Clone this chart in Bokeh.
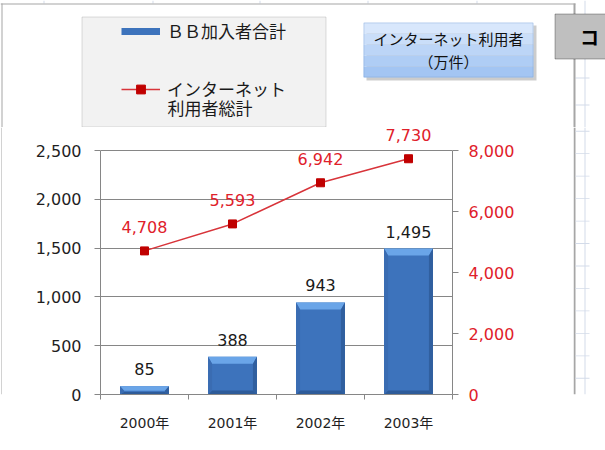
from bokeh.plotting import figure
from bokeh.layouts import column, row
from bokeh.models import (ColumnDataSource, Range1d, LinearAxis, FixedTicker,
                          NumeralTickFormatter, BoxAnnotation, Label, Legend, LegendItem)
from bokeh.core.properties import value
from bokeh.embed import file_html
from bokeh.resources import INLINE

# ---------------- data ----------------
years = ["2000年", "2001年", "2002年", "2003年"]
bb_subscribers = [85, 388, 943, 1495]          # left axis (bars)
internet_users = [4708, 5593, 6942, 7730]      # right axis (line)
left_ticks = [0, 500, 1000, 1500, 2000, 2500]
right_ticks = [0, 2000, 4000, 6000, 8000]
legend_labels = ["ＢＢ加入者合計", "インターネット", "利用者総計"]
note_lines = ["インターネット利用者", "（万件）"]
corner_text = "コ"

# ---------------- layout constants (page pixels) ----------------
PW, PH = 605, 450
TOP_H = 127                  # decoration strip above the chart
MID_H = 448 - TOP_H          # chart row
LEFT_W, RIGHT_X = 2, 573     # left strip, right strip start
F_L, F_R, F_T, F_B = 100, 452, 127, 394   # plot frame (page px)
Y_TOP_PX = 150               # where the top tick lands
NUM_FONT = "DejaVu Sans, Noto Sans CJK JP"
JP_FONT = "Noto Sans CJK JP"
RED_TXT = "#e0202a"
BORDER = "#a6a6a6"
SHEET = "#d3dbe9"
BAR_COL = "#3d73bc"
LINE_COL = "#d8343a"
MARK_COL = "#c00000"
TXT = "#1a1a1a"


def deco_fig(x0, x1, y0, y1):
    f = figure(width=x1 - x0, height=y1 - y0, x_range=Range1d(x0, x1), y_range=Range1d(y1, y0),
               output_backend="svg", toolbar_location=None,
               x_axis_location=None, y_axis_location=None,
               min_border=0, min_border_left=0, min_border_right=0,
               min_border_top=0, min_border_bottom=0)
    f.outline_line_color = None
    f.background_fill_color = "white"
    f.border_fill_color = "white"
    f.grid.visible = False
    return f


def rect(f, x0, y0, x1, y1, **kw):
    f.add_layout(BoxAnnotation(left=x0, right=x1, top=y0, bottom=y1, **kw))


def fill_rect(f, x0, y0, x1, y1, color):
    rect(f, x0, y0, x1, y1, fill_color=color, fill_alpha=1, line_color=None)


# ================= top strip (legend, note, corner box) =================
top = deco_fig(0, PW, 0, TOP_H)
for gx in [43, 152, 259, 367, 476]:
    fill_rect(top, gx, 0, gx + 1, 3, SHEET)
fill_rect(top, 584, 0, 585, TOP_H, SHEET)
for gy in [77, 104]:
    fill_rect(top, 575, gy, 589, gy + 1, SHEET)
fill_rect(top, 0, 3, RIGHT_X + 2, 4, BORDER)
fill_rect(top, 1, 3, 2, TOP_H, BORDER)
fill_rect(top, RIGHT_X, 3, RIGHT_X + 2, TOP_H, BORDER)

# legend box
rect(top, 81.5, 16.5, 325.5, 126.5, fill_color="#f2f2f2", fill_alpha=1,
     line_color="#8c8c8c", line_width=1)
# legend proxies (off-screen points, only their legend swatches show)
px_bar = top.line(x=[-60, -50], y=[-60, -60], line_color=BAR_COL, line_width=7)
px_line = top.line(x=[-60, -50], y=[-60, -60], line_color=LINE_COL, line_width=1.5)
px_mark = top.scatter(x=[-60], y=[-60], marker="square", size=8,
                      fill_color=MARK_COL, line_color=MARK_COL)
ROW_H, ROW_GAP, LEG_TOP = 22, 33, 24
legend = Legend(items=[LegendItem(label=legend_labels[0], renderers=[px_bar]),
                       LegendItem(label=legend_labels[1], renderers=[px_line, px_mark])],
                location=(121, TOP_H - (LEG_TOP + 2 * ROW_H + ROW_GAP)),
                orientation="vertical", padding=0, margin=0, spacing=ROW_GAP,
                glyph_width=39, glyph_height=ROW_H, label_height=ROW_H, label_standoff=7,
                label_text_font=JP_FONT, label_text_font_size="17px",
                label_text_color=TXT,
                border_line_alpha=0, background_fill_alpha=0)
top.add_layout(legend)
top.add_layout(Label(x=167, y=107, text=legend_labels[2], text_align="left",
                     text_baseline="middle", text_font=JP_FONT, text_font_size="17px",
                     text_color=TXT))

# note box
rect(top, 366, 25, 536, 80, fill_color="#8d8d8d", fill_alpha=0.45, line_color=None)
bands = ["#d8e7fc", "#cadef9", "#bcd5f7", "#afcdf5", "#a3c5f3"]
bh = 55 / len(bands)
for i, col in enumerate(bands):
    fill_rect(top, 363, 22 + i * bh, 533, 22 + (i + 1) * bh, col)
rect(top, 363.5, 22.5, 532.5, 76.5, fill_alpha=0, line_color="#6f98d2", line_width=1)
for txt, yy in zip(note_lines, [38, 61]):
    top.add_layout(Label(x=448, y=yy, text=txt, text_align="center", text_baseline="middle",
                         text_font=JP_FONT, text_font_size="15px", text_color="#111111"))

# corner box
rect(top, 554.5, 13.5, 620, 58.5, fill_color="#bfbfbf", fill_alpha=1,
     line_color="#000000", line_width=1)
top.add_layout(Label(x=589, y=36, text=corner_text, text_align="center", text_baseline="middle",
                     text_font=JP_FONT, text_font_size="19px", text_font_style="bold",
                     text_color="#000000"))

# ================= left / right / bottom strips =================
left = deco_fig(0, LEFT_W, TOP_H, 448)
fill_rect(left, 1, TOP_H, 2, 448, BORDER)

right = deco_fig(RIGHT_X, PW, TOP_H, 448)
fill_rect(right, RIGHT_X, TOP_H, RIGHT_X + 2, 448, BORDER)
fill_rect(right, 584, TOP_H, 585, 448, SHEET)
for k in range(13):
    gy = 131 + 27 * k
    fill_rect(right, RIGHT_X + 2, gy, 589, gy + 1, SHEET)

bottom = deco_fig(0, PW, 448, PH)
fill_rect(bottom, 1, 448, RIGHT_X + 2, 449, BORDER)
fill_rect(bottom, 584, 448, 585, PH, SHEET)

# ================= main chart =================
n = len(years)
centers = [i + 0.5 for i in range(n)]
bounds = [float(i) for i in range(n + 1)]
scale_up = (F_B - F_T) / (F_B - Y_TOP_PX)
y_end = left_ticks[-1] * scale_up
y2_end = right_ticks[-1] * scale_up

p = figure(width=RIGHT_X - LEFT_W, height=MID_H, output_backend="svg", toolbar_location=None,
           x_range=Range1d(0, n), y_range=Range1d(left_ticks[0], y_end),
           min_border_left=F_L - LEFT_W, min_border_right=RIGHT_X - F_R,
           min_border_top=F_T - TOP_H, min_border_bottom=448 - F_B)
p.extra_y_ranges = {"right": Range1d(right_ticks[0], y2_end)}
p.outline_line_color = None
p.background_fill_color = "white"
p.border_fill_color = "white"

ax_col = "#868686"
p.xaxis.ticker = FixedTicker(ticks=centers, minor_ticks=bounds)
p.xaxis.major_label_overrides = {c: y for c, y in zip(centers, years)}
p.xaxis.major_tick_line_color = None
p.xaxis.major_tick_out = 0
p.xaxis.major_tick_in = 0
p.xaxis.minor_tick_line_color = ax_col
p.xaxis.minor_tick_out = 5
p.xaxis.minor_tick_in = 0
p.xaxis.axis_line_color = ax_col
p.xaxis.major_label_standoff = 15
p.xaxis.major_label_text_font = NUM_FONT
p.xaxis.major_label_text_font_size = "14px"
p.xaxis.major_label_text_color = "#1f1f1f"

p.yaxis.ticker = FixedTicker(ticks=left_ticks, minor_ticks=[])
p.yaxis.formatter = NumeralTickFormatter(format="0,0")
p.yaxis.bounds = (left_ticks[0], left_ticks[-1])
p.yaxis.axis_line_color = ax_col
p.yaxis.major_tick_line_color = ax_col
p.yaxis.major_tick_out = 6
p.yaxis.major_tick_in = 0
p.yaxis.minor_tick_line_color = None
p.yaxis.major_label_standoff = 13
p.yaxis.major_label_text_font = NUM_FONT
p.yaxis.major_label_text_font_size = "16px"
p.yaxis.major_label_text_color = "#1f1f1f"

right_axis = LinearAxis(y_range_name="right",
                        ticker=FixedTicker(ticks=right_ticks, minor_ticks=[]),
                        formatter=NumeralTickFormatter(format="0,0"),
                        bounds=(right_ticks[0], right_ticks[-1]))
right_axis.axis_line_color = ax_col
right_axis.major_tick_line_color = ax_col
right_axis.major_tick_out = 6
right_axis.major_tick_in = 0
right_axis.minor_tick_line_color = None
right_axis.major_label_standoff = 10
right_axis.major_label_text_font = NUM_FONT
right_axis.major_label_text_font_size = "16px"
right_axis.major_label_text_color = RED_TXT
p.add_layout(right_axis, "right")

p.xgrid.grid_line_color = None
p.ygrid.ticker = FixedTicker(ticks=left_ticks)
p.ygrid.grid_line_color = ax_col
p.ygrid.grid_line_width = 1

# bars (body + bevel facets derived from each bar's value)
bar_w = 1 / 1.8
px_y = y_end / (F_B - F_T)            # data units per pixel
px_x = n / (F_R - F_L)
src = ColumnDataSource(dict(x=centers, top=bb_subscribers, year=years,
                            lbl=[f"{v:,}" for v in bb_subscribers]))
bar_r = p.vbar(x="x", top="top", bottom=0, width=bar_w, source=src,
               fill_color=BAR_COL, line_color=None)
facets = {"top": ([], [], "#6aa5e8"), "bot": ([], [], "#2d5b99"),
          "lft": ([], [], "#3a6cb2"), "rgt": ([], [], "#305f9f")}
ins = 4 * px_x
for c, v in zip(centers, bb_subscribers):
    xl, xr = c - bar_w / 2, c + bar_w / 2
    b = min(7 * px_y, 0.55 * v)
    bb = min(4 * px_y, 0.3 * v)
    pts = {"top": ([xl, xr, xr - ins, xl + ins], [v, v, v - b, v - b]),
           "bot": ([xl, xr, xr - ins, xl + ins], [0, 0, bb, bb]),
           "lft": ([xl, xl + ins, xl + ins, xl], [v, v - b, bb, 0]),
           "rgt": ([xr, xr - ins, xr - ins, xr], [v, v - b, bb, 0])}
    for k, (xs, ys) in pts.items():
        facets[k][0].append(xs)
        facets[k][1].append(ys)
for k, (xs, ys, col) in facets.items():
    p.patches(xs, ys, fill_color=col, line_color=None)
p.text(x="x", y="top", text="lbl", source=src, text_align="center",
       text_baseline="middle", y_offset=-17, text_font=value("DejaVu Sans"),
       text_font_size="16px", text_color=TXT)

# line
lsrc = ColumnDataSource(dict(x=centers, y=internet_users,
                             lbl=[f"{v:,}" for v in internet_users]))
p.line(x="x", y="y", source=lsrc, y_range_name="right",
       line_color=LINE_COL, line_width=1.5)
p.scatter(x="x", y="y", source=lsrc, y_range_name="right", marker="square",
          size=8, fill_color=MARK_COL, line_color=MARK_COL)
p.text(x="x", y="y", text="lbl", source=lsrc, y_range_name="right", text_align="center",
       text_baseline="middle", y_offset=-24, text_font=value("DejaVu Sans"),
       text_font_size="16px", text_color=RED_TXT)

layout = column(top, row(left, p, right, spacing=0), bottom, spacing=0)
open("out.html", "w").write(file_html(layout, INLINE))
